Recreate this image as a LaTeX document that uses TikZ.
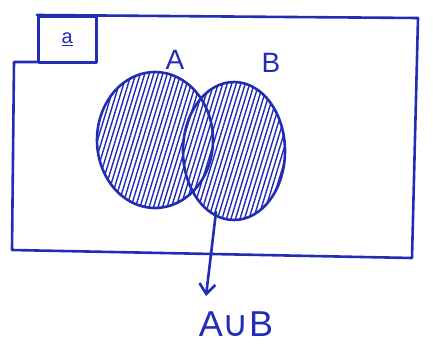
\documentclass[tikz,border=0pt]{standalone}
\usepackage{fontspec}
\setmainfont{Liberation Sans}
\newfontfamily\symfont{DejaVu Sans}
\usetikzlibrary{arrows.meta}
\definecolor{pen}{RGB}{35,45,180}
\tikzset{
  ink/.style={draw=pen, line width=2.6pt, line cap=round, line join=round},
  hatch/.style={draw=pen, line width=1.4pt},
  lbl/.style={text=pen, font=\fontsize{28}{30}\selectfont},
}
\begin{document}
\begin{tikzpicture}[x=1pt,y=-1pt]
\useasboundingbox (0,0) rectangle (433,348);
% universal set frame
\coordinate (tl) at (37,15);
\coordinate (tr) at (418,18);
\coordinate (br) at (412,258);
\coordinate (bl) at (12,250);
\coordinate (ml) at (14,62);
\coordinate (mb) at (37,62);
\draw[ink] (tl) -- (tr) -- (br) -- (bl) -- (ml) -- (mb);
% small corner box
\node[ink, minimum width=58pt, minimum height=46pt, anchor=north west, inner sep=0pt] (box) at (37,15) {};
\node[text=pen, font=\fontsize{20}{22}\selectfont] (u) at (box.center) {\underline{a}};
% sets
\coordinate (ca) at (155,140);
\coordinate (cb) at (234,151);
\begin{scope}
  \clip (ca) ellipse [x radius=58, y radius=68] (cb) ellipse [x radius=51, y radius=69];
  \foreach \i in {0,...,60} {
    \draw[hatch] (40+\i*4.5,240) -- (95+\i*4.5,60);
  }
\end{scope}
\draw[ink] (ca) ellipse [x radius=58, y radius=68];
\draw[ink] (cb) ellipse [x radius=51, y radius=69];
\node[lbl] (la) at (175,60) {A};
\node[lbl] (lb) at (271,63) {B};
% union label and arrow
\node[lbl, font=\fontsize{36}{38}\selectfont] (un) at (236,324) {A{\symfont ∪}B};
\coordinate (as) at (216,212);
\draw[ink, -{Straight Barb[length=10pt,width=16pt]}] (as) -- (206,296);
\end{tikzpicture}
\end{document}
